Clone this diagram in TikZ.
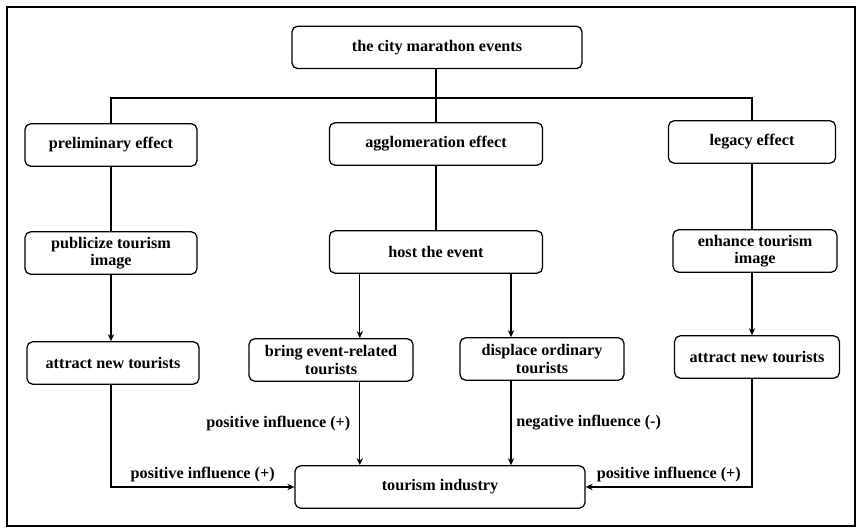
\documentclass[tikz,border=0pt]{standalone}
\usepackage{fontspec}
\setmainfont{Liberation Serif}
\usetikzlibrary{arrows.meta}
\tikzset{
  blk/.style={draw,line width=0.9pt,rounded corners=4pt,minimum height=1.06cm,
    inner ysep=1pt,align=center,font=\fontsize{11.5}{12.5}\selectfont\bfseries},
  lnk/.style={line width=0.9pt},
  lbl/.style={font=\fontsize{11.5}{12.5}\selectfont\bfseries}
}
\begin{document}
\begin{tikzpicture}[>={Stealth[length=5pt,width=4.5pt]}]
\useasboundingbox (0,0) rectangle (21.45,13.225);
\draw[line width=1pt] (0.175,0.075) rectangle (21.375,13.05);
\node[blk,minimum width=7.25cm] (city) at (10.925,12.04) {the city marathon events};
\node[blk,minimum width=4.3cm] (pre) at (2.775,9.6) {preliminary effect};
\node[blk,minimum width=5.33cm] (agg) at (10.9,9.625) {agglomeration effect};
\node[blk,minimum width=4.18cm] (leg) at (18.8,9.675) {legacy effect};
\node[blk,minimum width=4.3cm] (pub) at (2.775,6.9) {publicize tourism\\image};
\node[blk,minimum width=5.33cm] (host) at (10.9,6.925) {host the event};
\node[blk,minimum width=4.1cm] (enh) at (18.875,6.95) {enhance tourism\\image};
\node[blk,minimum width=4.3cm] (att1) at (2.825,4.15) {attract new tourists};
\node[blk,minimum width=4.1cm] (bring) at (8.275,4.225) {bring event-related\\tourists};
\node[blk,minimum width=4.1cm] (disp) at (13.55,4.25) {displace ordinary\\tourists};
\node[blk,minimum width=4.12cm] (att2) at (18.925,4.3) {attract new tourists};
\node[blk,minimum width=7.25cm] (tour) at (11.0,1.05) {tourism industry};
\coordinate (bus) at (10.9,10.775);
\draw[lnk] (bus |- city.south) -- (agg.north);
\draw[lnk] (pre.north) |- (bus) -| (leg.north);
\draw[lnk] (pre.south) -- (pre.south |- pub.north);
\draw[lnk] (agg.south) -- (host.north);
\draw[lnk] (leg.south) -- (leg.south |- enh.north);
\draw[lnk,->] (pre.south |- pub.south) -- (pre.south |- att1.north);
\draw[lnk,->] (leg.south |- enh.south) -- (leg.south |- att2.north);
\draw[lnk,->] ([xshift=0.72cm]bring.north |- host.south) -- ([xshift=0.72cm]bring.north);
\draw[lnk,->] ([xshift=-0.775cm]disp.north |- host.south) -- ([xshift=-0.775cm]disp.north);
\draw[lnk,->] ([xshift=0.72cm]bring.south) -- ([xshift=0.72cm]bring.south |- tour.north)
  node[lbl,midway,left,xshift=-3pt] {positive influence (+)};
\draw[lnk,->] ([xshift=-0.775cm]disp.south) -- ([xshift=-0.775cm]disp.south |- tour.north)
  node[lbl,midway,right] {negative influence (-)};
\draw[lnk,->] (pre.south |- att1.south) |- (tour.west)
  node[lbl,pos=0.75,above] {positive influence (+)};
\draw[lnk,->] (leg.south |- att2.south) |- (tour.east)
  node[lbl,pos=0.75,above] {positive influence (+)};
\end{tikzpicture}
\end{document}
